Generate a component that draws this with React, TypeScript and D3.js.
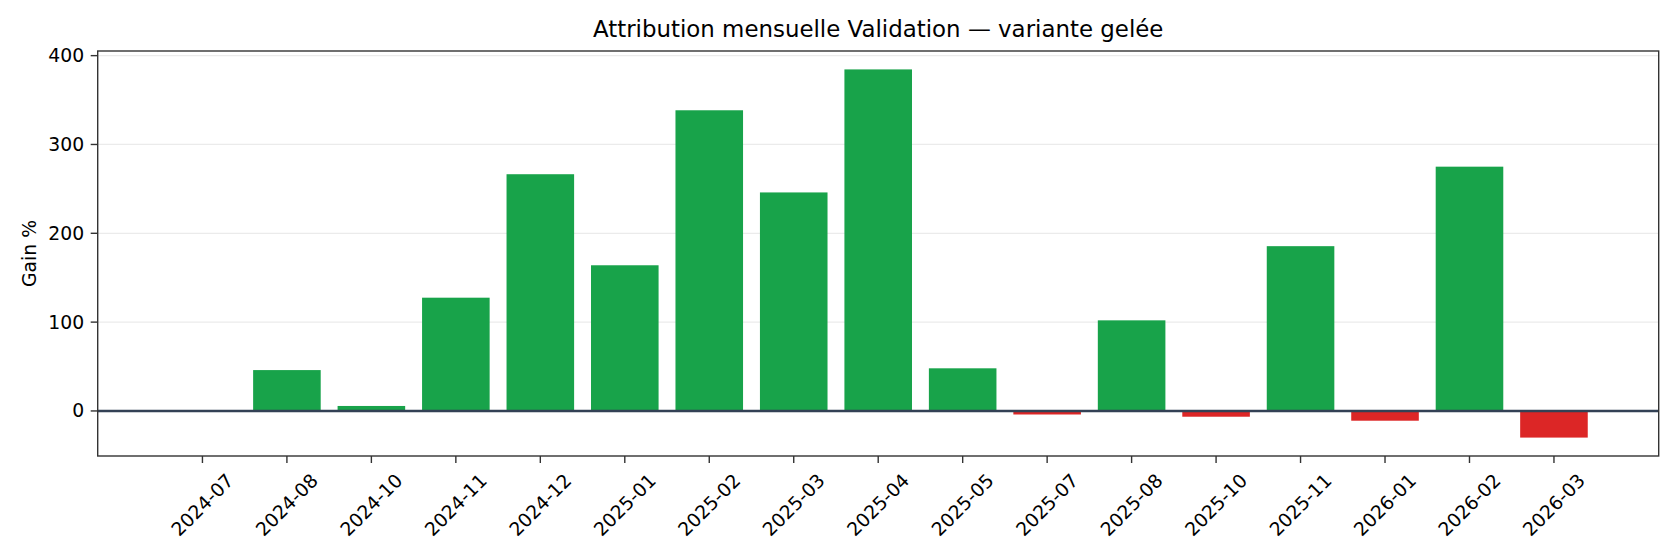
import { useRef, useEffect } from 'react';
import * as d3 from 'd3';

const months = [
  '2024-07', '2024-08', '2024-10', '2024-11', '2024-12', '2025-01',
  '2025-02', '2025-03', '2025-04', '2025-05', '2025-07', '2025-08',
  '2025-10', '2025-11', '2026-01', '2026-02', '2026-03',
];
const gains = [
  0, 46, 5.6, 127.5, 266.5, 164, 338.5, 246, 384.5, 48, -4, 102,
  -6.5, 185.5, -11, 275, -30,
];
const yTicks = [0, 100, 200, 300, 400];

const W = 1680;
const H = 560;
const LEFT = 97.7;
const RIGHT = 1658.7;
const TOP = 51;
const BOTTOM = 456;
const FONT = '"DejaVu Sans", sans-serif';

export default function App() {
  const svgRef = useRef<SVGSVGElement>(null);

  useEffect(() => {
    const svg = d3.select(svgRef.current);
    svg.selectAll('*').remove();

    // matplotlib-like 5% margins
    const n = months.length;
    const xPad = 0.05 * (n - 1 + 0.8);
    const x = d3
      .scaleLinear()
      .domain([-0.4 - xPad, n - 1 + 0.4 + xPad])
      .range([LEFT, RIGHT]);
    const lo = Math.min(0, d3.min(gains)!);
    const hi = d3.max(gains)!;
    const yPad = 0.05 * (hi - lo);
    const y = d3
      .scaleLinear()
      .domain([lo - yPad, hi + yPad])
      .range([BOTTOM, TOP]);

    svg.append('rect').attr('width', W).attr('height', H).attr('fill', '#fff');

    // Grid
    yTicks.forEach((v) => {
      svg
        .append('line')
        .attr('x1', LEFT)
        .attr('x2', RIGHT)
        .attr('y1', y(v))
        .attr('y2', y(v))
        .attr('stroke', '#ebebeb')
        .attr('stroke-width', 1.2);
    });

    // Bars
    gains.forEach((g, i) => {
      const y0 = y(Math.max(0, g));
      const y1 = y(Math.min(0, g));
      svg
        .append('rect')
        .attr('x', x(i - 0.4))
        .attr('width', x(i + 0.4) - x(i - 0.4))
        .attr('y', y0)
        .attr('height', Math.max(0, y1 - y0))
        .attr('fill', g >= 0 ? '#18a34a' : '#dc2626');
    });

    // Zero line
    svg
      .append('line')
      .attr('x1', LEFT)
      .attr('x2', RIGHT)
      .attr('y1', y(0))
      .attr('y2', y(0))
      .attr('stroke', '#334155')
      .attr('stroke-width', 2.4);

    // Frame
    svg
      .append('rect')
      .attr('x', LEFT)
      .attr('y', TOP)
      .attr('width', RIGHT - LEFT)
      .attr('height', BOTTOM - TOP)
      .attr('fill', 'none')
      .attr('stroke', '#333')
      .attr('stroke-width', 1.4);

    // Y ticks
    yTicks.forEach((v) => {
      svg
        .append('line')
        .attr('x1', LEFT - 7)
        .attr('x2', LEFT)
        .attr('y1', y(v))
        .attr('y2', y(v))
        .attr('stroke', '#333')
        .attr('stroke-width', 1.4);
      svg
        .append('text')
        .attr('x', LEFT - 13.5)
        .attr('y', y(v))
        .attr('text-anchor', 'end')
        .attr('dominant-baseline', 'central')
        .attr('font-family', FONT)
        .attr('font-size', 18.8)
        .attr('fill', '#000')
        .text(v);
    });

    // X ticks
    months.forEach((m, i) => {
      svg
        .append('line')
        .attr('x1', x(i))
        .attr('x2', x(i))
        .attr('y1', BOTTOM)
        .attr('y2', BOTTOM + 7)
        .attr('stroke', '#333')
        .attr('stroke-width', 1.4);
      svg
        .append('text')
        .attr('transform', `translate(${x(i)},${505}) rotate(-45)`)
        .attr('text-anchor', 'middle')
        .attr('dominant-baseline', 'central')
        .attr('font-family', FONT)
        .attr('font-size', 18.8)
        .attr('fill', '#000')
        .text(m);
    });

    // Y label
    svg
      .append('text')
      .attr('transform', `translate(29,${(TOP + BOTTOM) / 2}) rotate(-90)`)
      .attr('text-anchor', 'middle')
      .attr('dominant-baseline', 'central')
      .attr('font-family', FONT)
      .attr('font-size', 18.8)
      .attr('fill', '#000')
      .text('Gain %');

    // Title
    svg
      .append('text')
      .attr('x', (LEFT + RIGHT) / 2)
      .attr('y', 36.7)
      .attr('text-anchor', 'middle')
      .attr('font-family', FONT)
      .attr('font-size', 22.9)
      .attr('fill', '#000')
      .text('Attribution mensuelle Validation — variante gelée');
  }, []);

  return (
    <svg
      ref={svgRef}
      width={W}
      height={H}
      style={{ position: 'absolute', top: 0, left: 0, display: 'block' }}
    />
  );
}
